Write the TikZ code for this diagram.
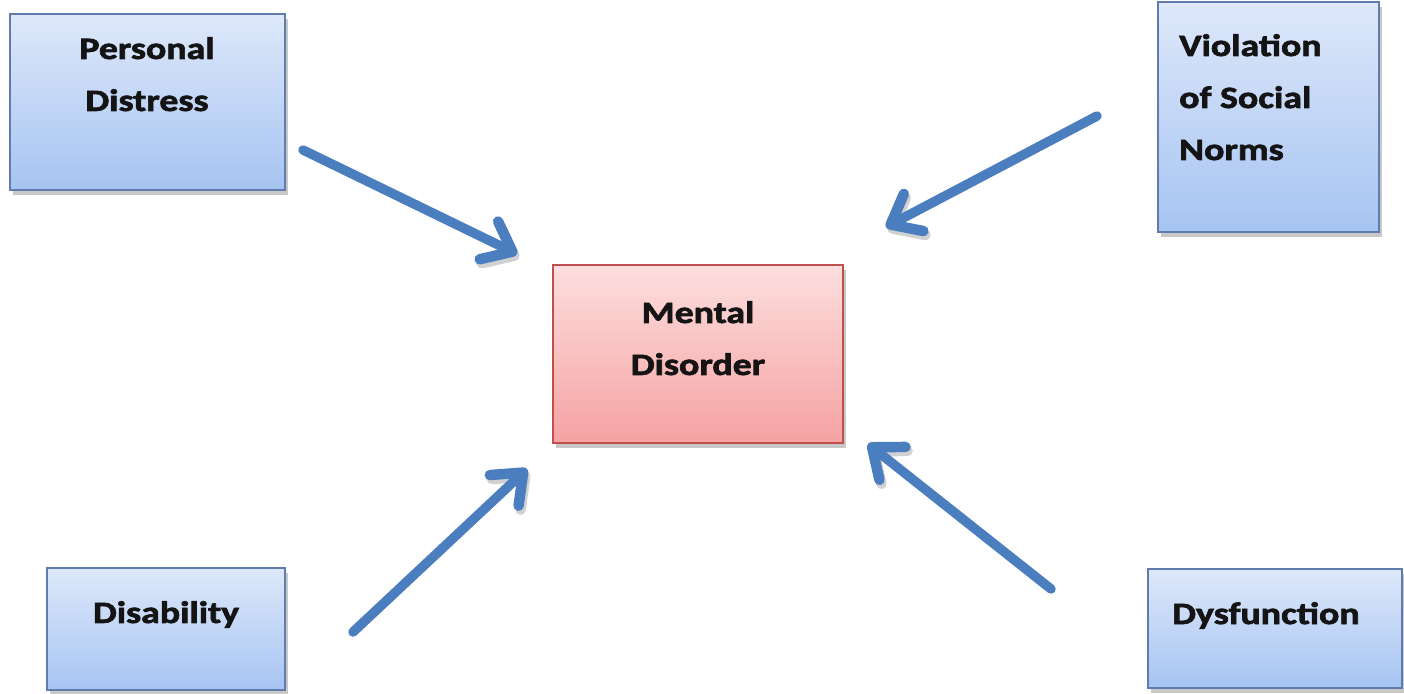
\documentclass[tikz,border=0pt]{standalone}
\usepackage{fontspec}
\setmainfont{Carlito}
\newfontfamily\lblfont{Carlito}[FakeStretch=1.22, UprightFont=*-Bold, FakeBold=2.2]
\usetikzlibrary{arrows.meta,shadows}
\definecolor{bluetop}{RGB}{222,232,250}
\definecolor{bluebot}{RGB}{166,196,242}
\definecolor{blueedge}{RGB}{96,124,172}
\definecolor{pinktop}{RGB}{253,222,222}
\definecolor{pinkbot}{RGB}{245,162,162}
\definecolor{pinkedge}{RGB}{192,80,77}
\definecolor{arrowblue}{RGB}{74,126,190}
\tikzset{
  boxshadow/.style={drop shadow={shadow xshift=3pt, shadow yshift=-5pt, opacity=0.3, fill=black!70}},
  bluebox/.style={rectangle, draw=blueedge, line width=1.5pt, top color=bluetop, bottom color=bluebot, inner sep=0pt, boxshadow},
  pinkbox/.style={rectangle, draw=pinkedge, line width=1.5pt, top color=pinktop, bottom color=pinkbot, inner sep=0pt, boxshadow},
  lbl/.style={inner sep=0pt, anchor=north, font=\lblfont\fontsize{31}{52}\selectfont, text=black!92},
  bigarrow/.style={draw=arrowblue, line width=9.5pt, line cap=round, line join=round,
     -{Straight Barb[length=26pt, width=42pt, line width=0pt 1.1, line cap=round, line join=round]},
     preaction={draw=black, opacity=0.18, transform canvas={xshift=2pt, yshift=-4pt}}}
}
\begin{document}
\begin{tikzpicture}[x=1pt, y=-1pt]
\useasboundingbox[fill=white] (0,0) rectangle (1404,693);
% boxes
\node[bluebox, minimum width=275pt, minimum height=176pt] (pd) at (147.5,102) {};
\node[bluebox, minimum width=221pt, minimum height=230pt] (vsn) at (1268.5,117) {};
\node[pinkbox, minimum width=290pt, minimum height=178pt] (md) at (698,354) {};
\node[bluebox, minimum width=238pt, minimum height=122pt] (dis) at (166,629) {};
\node[bluebox, minimum width=254pt, minimum height=119pt] (dys) at (1275,628.5) {};
% labels
\node[lbl, align=center] (pdt) at (147,37) {Personal\\Distress};
\node[lbl, align=left, anchor=north west] (vsnt) at (1179,34) {Violation\\of Social\\Norms};
\node[lbl, align=center] (mdt) at (698,301) {Mental\\Disorder};
\node[lbl] (dist) at (166,601) {Disability};
\node[lbl, anchor=north west] (dyst) at (1172,602) {Dysfunction};
% arrow ends
\coordinate (a1s) at (303,150);
\coordinate (a1e) at (517,254);
\coordinate (a2s) at (1097,116);
\coordinate (a2e) at (886,227);
\coordinate (a3s) at (353,632);
\coordinate (a3e) at (527,469);
\coordinate (a4s) at (1051,589);
\coordinate (a4e) at (868,444);
\draw[bigarrow] (a1s) -- (a1e);
\draw[bigarrow] (a2s) -- (a2e);
\draw[bigarrow] (a3s) -- (a3e);
\draw[bigarrow] (a4s) -- (a4e);
\end{tikzpicture}
\end{document}
